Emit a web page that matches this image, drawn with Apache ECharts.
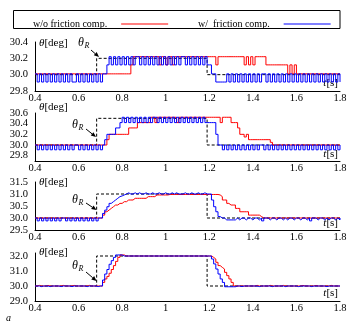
<!DOCTYPE html>
<html><head><meta charset="utf-8">
<script src="https://cdn.jsdelivr.net/npm/echarts@6/dist/echarts.min.js"></script>
<style>html,body{margin:0;padding:0;background:#fff}#c{width:354px;height:325px}</style>
</head><body><div id="c"></div>
<script>
// sample times [s]
const time = [0.40,0.41,0.42,0.43,0.44,0.45,0.46,0.47,0.48,0.49,
0.50,0.51,0.52,0.53,0.54,0.55,0.56,0.57,0.58,0.59,
0.60,0.61,0.62,0.63,0.64,0.65,0.66,0.67,0.68,0.69,
0.70,0.71,0.72,0.73,0.74,0.75,0.76,0.77,0.78,0.79,
0.80,0.81,0.82,0.83,0.84,0.85,0.86,0.87,0.88,0.89,
0.90,0.91,0.92,0.93,0.94,0.95,0.96,0.97,0.98,0.99,
1.00,1.01,1.02,1.03,1.04,1.05,1.06,1.07,1.08,1.09,
1.10,1.11,1.12,1.13,1.14,1.15,1.16,1.17,1.18,1.19,
1.20,1.21,1.22,1.23,1.24,1.25,1.26,1.27,1.28,1.29,
1.30,1.31,1.32,1.33,1.34,1.35,1.36,1.37,1.38,1.39,
1.40,1.41,1.42,1.43,1.44,1.45,1.46,1.47,1.48,1.49,
1.50,1.51,1.52,1.53,1.54,1.55,1.56,1.57,1.58,1.59,
1.60,1.61,1.62,1.63,1.64,1.65,1.66,1.67,1.68,1.69,
1.70,1.71,1.72,1.73,1.74,1.75,1.76,1.77,1.78,1.79,
1.80];

// Panel 1 (target 30.2 deg)
const blue1 = [30.01,29.91,30.01,29.91,30.01,29.91,30.01,29.91,30.01,29.91,
30.01,29.91,30.01,29.91,30.01,29.91,30.01,29.91,29.91,30.01,
29.91,30.01,29.91,30.01,29.91,30.01,29.91,30.01,29.91,30.01,
29.91,30.01,30.01,30.12,30.22,30.12,30.22,30.12,30.22,30.12,
30.22,30.12,30.22,30.12,30.22,30.12,30.22,30.22,30.12,30.22,
30.12,30.22,30.12,30.22,30.12,30.22,30.12,30.22,30.12,30.22,
30.12,30.22,30.12,30.22,30.12,30.22,30.12,30.22,30.22,30.12,
30.22,30.12,30.22,30.12,30.22,30.12,30.22,30.12,30.22,30.12,
30.12,30.01,30.01,29.91,29.91,29.91,29.91,29.91,30.01,29.91,
30.01,29.91,30.01,29.91,30.01,29.91,30.01,29.91,30.01,29.91,
30.01,29.91,30.01,29.91,30.01,30.01,29.91,30.01,29.91,30.01,
29.91,30.01,29.91,30.01,29.91,30.01,29.91,30.01,29.91,30.01,
29.91,30.01,29.91,30.01,29.91,30.01,29.91,30.01,29.91,30.01,
29.91,30.01,29.91,30.01,29.91,30.01,29.91,30.01,29.91,30.01,
29.91];
const red1 = [30.01,30.01,30.01,30.01,30.01,30.01,30.01,30.01,30.01,30.01,
30.01,30.01,30.01,30.01,30.01,30.01,30.01,30.01,30.01,30.01,
30.01,30.01,30.01,30.01,30.01,30.01,30.01,30.01,30.01,30.01,
30.01,30.01,30.01,30.01,30.01,30.01,30.01,30.01,30.01,30.01,
30.01,30.01,30.01,30.01,30.12,30.22,30.22,30.22,30.22,30.22,
30.22,30.22,30.22,30.22,30.22,30.22,30.22,30.12,30.22,30.22,
30.12,30.22,30.22,30.12,30.22,30.22,30.22,30.22,30.22,30.22,
30.22,30.22,30.22,30.22,30.22,30.22,30.22,30.22,30.22,30.22,
30.22,30.22,30.22,30.12,30.22,30.22,30.22,30.22,30.22,30.22,
30.22,30.22,30.22,30.22,30.22,30.22,30.12,30.22,30.12,30.22,
30.12,30.22,30.22,30.22,30.22,30.22,30.12,30.12,30.12,30.12,
30.12,30.12,30.12,30.12,30.12,30.12,30.01,30.12,30.01,30.12,
30.01,30.01,30.01,30.01,30.01,30.01,30.01,30.01,30.01,30.01,
30.01,30.01,30.01,30.01,30.01,30.01,30.01,30.01,30.01,30.01,
30.01];

// Panel 2 (target 30.5 deg)
const blue2 = [30.0,29.91,30.0,29.91,30.0,29.91,30.0,29.91,30.0,29.91,
30.0,29.91,30.0,29.91,30.0,29.91,30.0,29.91,30.0,30.0,
29.91,30.0,29.91,30.0,29.91,30.0,29.91,30.0,29.91,30.0,
29.91,30.0,30.1,30.2,30.2,30.2,30.2,30.32,30.32,30.42,
30.52,30.42,30.52,30.42,30.52,30.42,30.52,30.42,30.52,30.42,
30.52,30.42,30.52,30.42,30.52,30.52,30.42,30.52,30.42,30.52,
30.42,30.52,30.42,30.52,30.42,30.52,30.42,30.52,30.42,30.52,
30.42,30.52,30.42,30.52,30.42,30.52,30.42,30.52,30.42,30.42,
30.42,30.42,30.42,30.2,30.0,30.0,29.91,30.0,29.91,30.0,
29.91,30.0,29.91,30.0,29.91,30.0,29.91,30.0,29.91,30.0,
29.91,30.0,29.91,30.0,30.0,29.91,30.0,29.91,30.0,29.91,
30.0,29.91,30.0,29.91,30.0,29.91,30.0,29.91,30.0,29.91,
30.0,29.91,30.0,29.91,30.0,29.91,30.0,29.91,30.0,29.91,
30.0,29.91,30.0,29.91,30.0,29.91,30.0,29.91,30.0,29.91,
30.0];
const red2 = [30.0,30.0,30.0,30.0,30.0,30.0,30.0,30.0,30.0,30.0,
30.0,30.0,30.0,30.0,30.0,30.0,30.0,30.0,30.0,30.0,
30.0,30.0,30.0,30.0,30.0,30.0,30.0,30.0,30.0,30.0,
30.0,30.0,30.0,30.1,30.2,30.2,30.2,30.2,30.2,30.2,
30.2,30.2,30.2,30.32,30.32,30.32,30.32,30.42,30.42,30.42,
30.42,30.42,30.42,30.52,30.52,30.42,30.52,30.52,30.52,30.52,
30.52,30.52,30.52,30.52,30.52,30.42,30.52,30.52,30.52,30.52,
30.52,30.52,30.52,30.52,30.52,30.52,30.52,30.52,30.52,30.52,
30.52,30.52,30.52,30.52,30.52,30.42,30.52,30.52,30.52,30.52,
30.42,30.42,30.42,30.32,30.2,30.2,30.15,30.2,30.1,30.1,
30.1,30.1,30.1,30.1,30.1,30.1,30.1,30.1,30.05,30.0,
30.0,30.0,30.0,30.0,30.0,30.0,30.0,30.0,30.0,30.0,
30.0,30.0,30.0,30.0,30.0,30.0,30.0,30.0,30.0,30.0,
30.0,30.0,30.0,30.0,30.0,30.0,30.0,30.0,30.0,30.0,
30.0];

// Panel 3 (target 31.0 deg)
const blue3 = [30.0,29.88,30.0,29.88,30.0,29.88,30.0,29.88,30.0,29.88,
30.0,29.88,30.0,30.0,29.88,30.0,29.88,30.0,29.88,30.0,
29.88,30.0,29.88,30.0,29.88,30.0,29.88,30.0,29.88,30.0,
30.0,30.19,30.33,30.47,30.61,30.68,30.75,30.82,30.89,30.92,
30.96,31.0,31.05,31.0,31.0,31.05,31.0,31.05,31.0,31.0,
31.05,31.0,31.0,31.05,31.0,31.0,31.05,31.0,31.0,31.05,
31.0,31.0,31.05,31.0,31.05,31.0,31.0,31.0,31.05,31.0,
31.0,31.05,31.0,31.0,31.05,31.0,31.0,31.05,31.0,31.0,
31.0,30.75,30.47,30.26,30.06,30.0,30.0,29.92,29.92,29.92,
29.92,29.92,30.0,29.92,30.0,30.0,29.92,30.0,30.0,29.92,
30.0,30.0,29.92,30.0,29.88,30.0,30.0,29.92,30.0,30.0,
29.92,30.0,30.0,29.92,30.0,29.92,30.0,30.0,29.92,30.0,
30.0,29.92,30.0,30.0,29.92,30.0,29.88,30.0,30.0,29.92,
30.0,30.0,29.92,30.0,29.92,30.0,30.0,29.92,30.0,29.92,
30.0];
const red3 = [30.0,30.0,30.0,30.0,30.0,30.0,30.0,30.0,30.0,30.0,
30.0,30.0,30.0,30.0,30.0,30.0,30.0,30.0,30.0,30.0,
30.0,30.0,30.0,30.0,30.0,30.0,30.0,30.0,30.0,30.0,
30.0,30.12,30.26,30.33,30.40,30.47,30.54,30.54,30.61,30.61,
30.68,30.68,30.75,30.75,30.75,30.82,30.82,30.82,30.82,30.82,
30.82,30.89,30.89,30.89,30.89,30.96,30.96,30.96,30.96,30.96,
30.96,30.98,30.98,30.98,30.98,30.98,30.98,30.98,30.98,30.98,
30.98,30.98,30.98,30.98,30.98,30.98,30.98,30.98,30.98,30.98,
30.98,30.98,30.98,30.98,30.96,30.89,30.75,30.75,30.61,30.54,
30.54,30.54,30.40,30.40,30.26,30.26,30.26,30.26,30.12,30.12,
30.12,30.12,30.12,30.06,30.0,30.0,30.0,30.0,30.0,30.0,
30.0,30.0,30.0,30.0,30.0,30.0,30.0,30.0,30.0,30.0,
30.0,30.0,30.0,30.0,30.0,30.0,30.0,30.0,30.0,30.0,
30.0,30.0,30.0,30.0,30.0,30.0,30.0,30.0,30.0,30.0,
30.0];

// Panel 4 (target 32.0 deg)
const blue4 = [30.0,30.0,29.96,30.0,30.0,30.0,29.96,30.0,30.0,30.0,
30.0,29.96,30.0,30.0,30.0,30.0,29.96,30.0,30.0,30.0,
30.0,30.0,30.0,29.96,30.0,30.0,30.0,30.0,29.96,30.0,
30.0,30.4,30.8,31.1,31.45,31.69,31.91,32.07,32.07,32.07,
32.0,32.0,32.0,32.0,32.0,32.0,32.0,32.0,32.0,32.0,
32.0,32.0,32.0,32.0,32.0,32.0,32.0,32.0,32.0,32.0,
32.0,32.0,32.0,32.0,32.0,32.0,32.0,32.0,32.0,32.0,
32.0,32.0,32.0,32.0,32.0,32.0,32.0,32.0,32.0,32.0,
32.0,31.8,31.47,31.13,30.8,30.47,30.24,29.95,29.95,29.95,
29.95,29.95,30.0,30.0,29.96,30.0,30.0,30.0,30.0,30.0,
30.0,30.0,29.96,30.0,30.0,30.0,30.0,30.0,29.96,30.0,
30.0,30.0,30.0,30.0,29.96,30.0,30.0,30.0,30.0,30.0,
29.96,30.0,30.0,30.0,30.0,30.0,29.96,30.0,30.0,30.0,
30.0,30.0,30.0,29.96,30.0,30.0,30.0,30.0,30.0,30.0,
30.0];
const red4 = [30.0,30.04,30.0,30.0,30.0,30.04,30.0,30.0,30.0,30.0,
30.0,30.0,30.04,30.0,30.0,30.0,30.0,30.04,30.0,30.0,
30.0,30.0,30.0,30.0,30.04,30.0,30.0,30.0,30.0,30.0,
30.0,30.24,30.47,30.64,30.85,31.1,31.36,31.64,31.91,32.07,
32.07,32.0,32.0,32.0,32.0,32.0,32.0,32.0,32.0,32.0,
32.0,32.0,32.0,32.0,32.0,32.0,32.0,32.0,32.0,32.0,
32.0,32.0,32.0,32.0,32.0,32.0,32.0,32.0,32.0,32.0,
32.0,32.0,32.0,32.0,32.0,32.0,32.0,32.0,32.0,32.0,
32.0,31.91,31.8,31.58,31.36,31.24,31.13,30.91,30.69,30.47,
30.24,30.0,30.0,30.0,30.0,30.0,30.0,30.0,30.0,30.0,
30.0,30.04,30.0,30.0,30.0,30.0,30.0,30.04,30.0,30.0,
30.0,30.0,30.0,30.04,30.0,30.0,30.0,30.0,30.0,30.0,
30.0,30.0,30.04,30.0,30.0,30.0,30.0,30.0,30.04,30.0,
30.0,30.0,30.0,30.0,30.0,30.04,30.0,30.0,30.0,30.0,
30.0];

// reference command theta_R
const refTimes = [0.40, 0.683, 1.19, 1.80];
const refBase = 30.0;
const refTargets = [30.2, 30.5, 31.0, 32.0];

// axes
const yMins = [29.8, 29.7, 29.5, 29.0];
const yMaxs = [30.4, 30.6, 31.5, 32.2];
const yIntervals = [0.2, 0.1, 0.5, 1];
const yLabelSteps = [0.2, 0.2, 0.5, 1];
const xMin = 0.4, xMax = 1.8, xInterval = 0.2;

const legendNames = ['w/o friction comp.', 'w/  friction comp.'];
const seriesColors = ['#ff0000', '#0000ff'];
const redSeries = [red1, red2, red3, red4];
const blueSeries = [blue1, blue2, blue3, blue4];

// layout
const FONT = "'Liberation Serif','Times New Roman',serif";
const gridTops = [42, 113, 182, 253];
const gridHeights = [49, 48, 48, 48];
const GL = 35, GR = 14;

const chart = echarts.init(document.getElementById('c'), null, {renderer: 'canvas'});

const grids = [], xAxes = [], yAxes = [], series = [];
for (let p = 0; p < 4; p++) {
  grids.push({left: GL, right: GR, top: gridTops[p], height: gridHeights[p]});
  xAxes.push({
    type: 'value', gridIndex: p, min: xMin, max: xMax, interval: xInterval,
    axisLine: {show: true, onZero: false, lineStyle: {color: '#000', width: 1}},
    axisTick: {show: false}, splitLine: {show: false},
    axisLabel: {color: '#000', fontFamily: FONT, fontSize: 10.5, margin: 2}
  });
  const step = yLabelSteps[p];
  yAxes.push({
    type: 'value', gridIndex: p, min: yMins[p], max: yMaxs[p], interval: yIntervals[p],
    axisLine: {show: true, onZero: false, lineStyle: {color: '#000', width: 1}},
    axisTick: {show: false}, splitLine: {show: false},
    axisLabel: {color: '#000', fontFamily: FONT, fontSize: 10.5, margin: 7,
      formatter: v => { const k = v / step; return Math.abs(k - Math.round(k)) < 1e-6 ? v.toFixed(1) : ''; }}
  });
  const refLevels = [refBase, refTargets[p], refBase, refBase];
  series.push({
    type: 'line', xAxisIndex: p, yAxisIndex: p, step: 'end', symbol: 'none',
    data: refTimes.map((t, i) => [t, refLevels[i]]),
    lineStyle: {color: '#000', width: 1, type: [3, 2]}, silent: true
  });
  [redSeries, blueSeries].forEach((arrs, k) => {
    series.push({
      name: legendNames[k], type: 'line', xAxisIndex: p, yAxisIndex: p, step: 'end', symbol: 'none',
      data: time.map((t, i) => [t, arrs[p][i]]),
      color: seriesColors[k],
      lineStyle: {color: seriesColors[k], width: 1}, itemStyle: {color: seriesColors[k]}
    });
  });
}

const legendLefts = [28, 193];
const legends = legendNames.map((n, k) => ({
  data: [{name: n, icon: 'rect', itemStyle: {color: seriesColors[k]}}],
  left: legendLefts[k], top: 14, align: 'right', orient: 'horizontal',
  itemWidth: 47, itemHeight: 1, selectedMode: false,
  textStyle: {color: '#000', fontFamily: FONT, fontSize: 10, padding: [0, 9, 0, 0]}
}));

// annotations
const graphic = [];
graphic.push({type: 'rect', shape: {x: 13.5, y: 10.5, width: 326.5, height: 18}, style: {fill: 'none', stroke: '#000', lineWidth: 1}});

const degY = [43, 107, 182, 252];
const tsY = [83, 154, 223, 293];
const thRx = [78, 72, 72, 72];
const thRy = [43, 125, 200, 266];
const arrows = [[91, 50, 99, 57], [86, 129, 96, 137], [86, 203, 96.5, 210], [86, 272, 96.5, 281]];
for (let p = 0; p < 4; p++) {
  graphic.push({type: 'text', x: 39, y: degY[p], style: {
    text: '{i|θ}[deg]', font: '11px ' + FONT, fill: '#000', verticalAlign: 'middle',
    rich: {i: {fontStyle: 'italic', fontFamily: FONT, fontSize: 11}}}});
  graphic.push({type: 'text', x: 338, y: tsY[p], style: {
    text: '{i|t}[s]', font: '11px ' + FONT, fill: '#000', align: 'right', verticalAlign: 'middle',
    rich: {i: {fontStyle: 'italic', fontFamily: FONT, fontSize: 11}}}});
  graphic.push({type: 'text', x: thRx[p], y: thRy[p], style: {
    text: 'θ', font: 'italic 12px ' + FONT, fill: '#000', verticalAlign: 'middle'}});
  graphic.push({type: 'text', x: thRx[p] + 6.5, y: thRy[p] + 3, style: {
    text: 'R', font: 'italic 8px ' + FONT, fill: '#000', verticalAlign: 'middle'}});
  const [x1, y1, x2, y2] = arrows[p];
  const dx = x2 - x1, dy = y2 - y1, L = Math.hypot(dx, dy), ux = dx / L, uy = dy / L;
  const bx = x2 - ux * 5, by = y2 - uy * 5;
  graphic.push({type: 'line', shape: {x1, y1, x2: bx, y2: by}, style: {stroke: '#000', lineWidth: 1}});
  graphic.push({type: 'polygon', shape: {points: [[x2, y2], [bx - uy * 2.2, by + ux * 2.2], [bx + uy * 2.2, by - ux * 2.2]]}, style: {fill: '#000'}});
}
graphic.push({type: 'text', x: 6, y: 318, style: {text: 'a', font: 'italic 10px ' + FONT, fill: '#000', verticalAlign: 'middle'}});

chart.setOption({
  animation: false,
  backgroundColor: '#fff',
  grid: grids, xAxis: xAxes, yAxis: yAxes, series: series,
  legend: legends,
  graphic: graphic
});
</script></body></html>
